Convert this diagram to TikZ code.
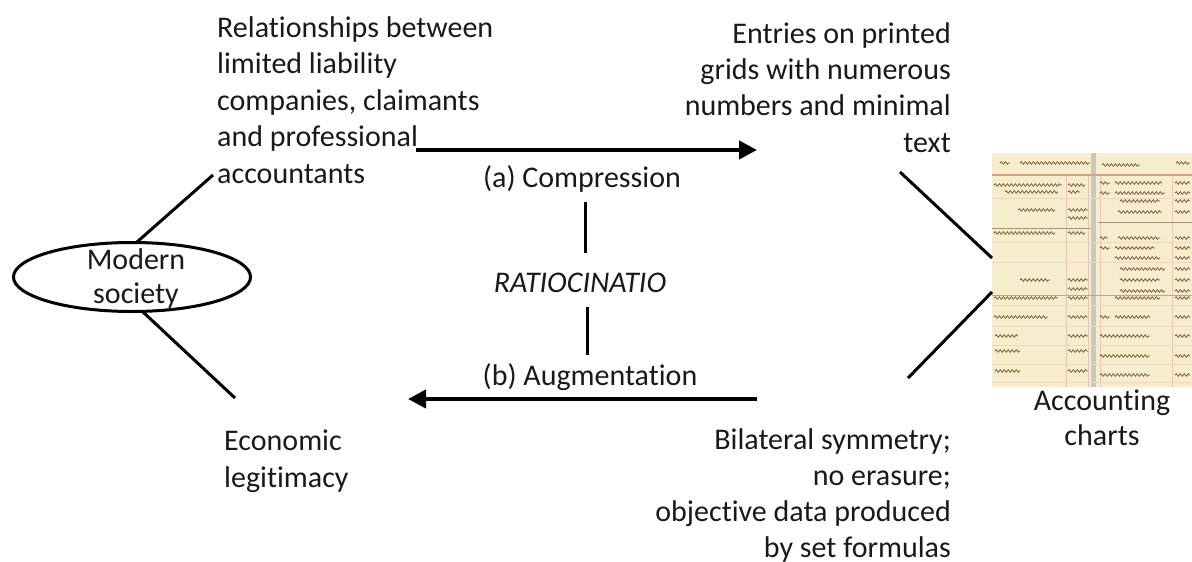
\documentclass[tikz,border=0pt]{standalone}
\usepackage{fontspec}
\setmainfont{Carlito}[Ligatures=NoCommon]
\usetikzlibrary{shapes.geometric,arrows.meta,decorations.pathmorphing}
\definecolor{chartbg}{RGB}{246,237,204}
\definecolor{ink}{RGB}{125,95,60}
\definecolor{redline}{RGB}{214,160,128}
\definecolor{foldc}{RGB}{196,202,190}
\definecolor{txt}{RGB}{25,25,25}
\tikzset{
  lbl/.style={inner sep=0pt, font=\fontsize{30}{36.5}\selectfont, text=txt},
  conn/.style={line width=3pt, black},
  bigarrow/.style={line width=4pt, -{Triangle[length=18pt,width=18pt]}},
  scrib/.style={ink, line width=0.8pt, decorate, decoration={snake,amplitude=1.3pt,segment length=4pt}},
  rule/.style={ink!70, line width=0.5pt},
}
\begin{document}
\begin{tikzpicture}[x=1pt,y=-1pt]
\useasboundingbox (0,0) rectangle (1192,562);

% ---- accounting chart (photo approximation)
\node[fill=chartbg, minimum width=200pt, minimum height=234pt, inner sep=0pt, anchor=north west] (chart) at (992,153) {};
\fill[foldc] (1091,153) rectangle (1096,387);
\draw[redline, line width=1.2pt] (992,175) -- (1192,175);
\foreach \x in {1066,1088,1100,1172} \draw[redline!60, line width=0.5pt] (\x,176) -- (\x,387);
\foreach \y in {198,242,262,305,326,345,364,382} \draw[redline!45, line width=0.4pt] (992,\y) -- (1192,\y);
\draw[rule] (992,228) -- (1091,228);
\draw[rule] (1098,222) -- (1192,222);
\draw[ink!55, line width=0.8pt] (992,295) -- (1192,295);
\foreach \y/\a/\b in {
  163/1000/1010, 163/1020/1090, 165/1102/1140, 163/1176/1190,
  185/994/1062, 185/1068/1085, 192/1005/1058, 192/1068/1080,
  210/1018/1055, 210/1068/1088, 218/1068/1088, 233/994/1055, 233/1068/1085,
  280/1020/1050, 280/1068/1088, 289/1068/1088, 298/994/1058, 298/1068/1088,
  317/994/1048, 317/1068/1088, 336/995/1018, 336/1068/1088,
  351/995/1020, 351/1068/1088, 371/995/1020, 371/1068/1088,
  183/1100/1110, 183/1115/1162, 183/1175/1190,
  193/1100/1110, 193/1115/1165, 193/1175/1190,
  201/1120/1160, 201/1175/1190, 212/1118/1162, 212/1175/1190,
  238/1100/1108, 238/1118/1160, 238/1175/1190,
  248/1100/1110, 248/1115/1155, 248/1175/1190,
  258/1115/1160, 258/1175/1190, 269/1120/1165, 269/1175/1190,
  280/1120/1160, 280/1175/1190, 291/1120/1165, 291/1175/1190,
  298/1115/1160, 298/1175/1190,
  317/1100/1110, 317/1115/1150, 317/1175/1190,
  336/1100/1150, 336/1175/1190, 356/1100/1150, 356/1175/1190,
  375/1100/1150, 375/1175/1190}
  \draw[scrib] (\a,\y) -- (\b,\y);

% ---- ellipse
\node[ellipse, draw, line width=3pt, minimum width=237pt, minimum height=69pt, inner sep=0pt] (ms) at (132,277) {};
\node[lbl, align=center, font=\fontsize{30}{34}\selectfont, anchor=base] (mst) at (136,303) {Modern\\society};

% ---- texts (base anchor = baseline of the last line)
\node[lbl, align=left, anchor=base west] (rel) at (217,183)
  {Relationships between\\limited liability\\companies, claimants\\and professional\\accountants};
\node[lbl, align=right, anchor=base east, font=\fontsize{30}{36.3}\selectfont] (ent) at (951,152)
  {Entries on printed\\grids with numerous\\numbers and minimal\\text};
\node[lbl, anchor=base] (comp) at (582,187) {(a) Compression};
\node[lbl, anchor=base, font=\fontsize{30}{36.5}\selectfont\itshape] (ratio) at (580,292) {RATIOCINATIO};
\node[lbl, anchor=base] (aug) at (590,385) {(b) Augmentation};
\node[lbl, align=left, anchor=base west] (econ) at (224,487) {Economic\\legitimacy};
\node[lbl, align=right, anchor=base east, font=\fontsize{30}{36}\selectfont] (bil) at (951,557)
  {Bilateral symmetry;\\no erasure;\\objective data produced\\by set formulas};
\node[lbl, align=center, anchor=base, font=\fontsize{30}{35}\selectfont] (acc) at (1102,445) {Accounting\\charts};

% ---- connector end points
\coordinate (msTop) at (137,242);
\coordinate (msBot) at (143,312);
\coordinate (relEnd) at (213,175);
\coordinate (econEnd) at (235,398);
\coordinate (entEnd) at (900,172);
\coordinate (chartA) at (992,258);
\coordinate (chartB) at (992,292);
\coordinate (bilEnd) at (908,378);
\coordinate (topA) at (416,150);
\coordinate (topB) at (757,150);
\coordinate (botA) at (757,399);
\coordinate (botB) at (408,399);
\coordinate (v1a) at (585,202);
\coordinate (v1b) at (585,253);
\coordinate (v2a) at (587,307);
\coordinate (v2b) at (587,355);

\draw[conn] (msTop) -- (relEnd);
\draw[conn] (msBot) -- (econEnd);
\draw[conn] (entEnd) -- (chartA);
\draw[conn] (chartB) -- (bilEnd);
\draw[bigarrow] (topA) -- (topB);
\draw[bigarrow] (botA) -- (botB);
\draw[conn] (v1a) -- (v1b);
\draw[conn] (v2a) -- (v2b);
\end{tikzpicture}
\end{document}
